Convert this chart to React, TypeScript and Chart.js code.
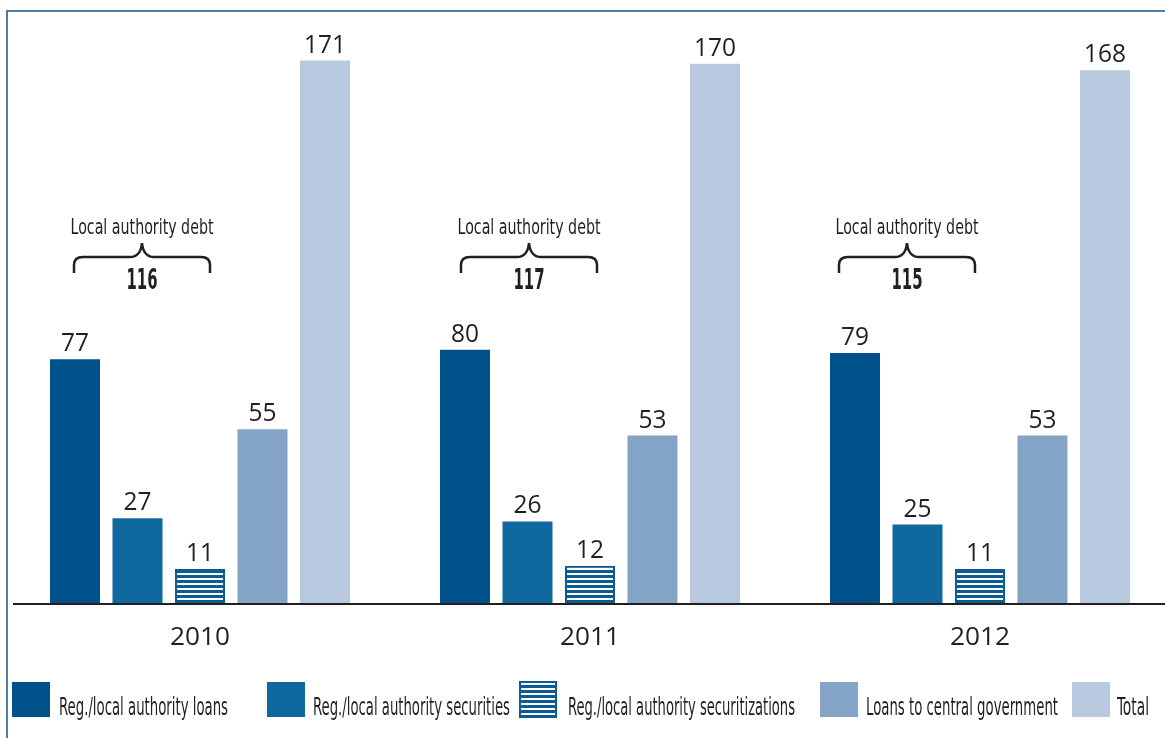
import React, { useEffect, useRef } from 'react';
import { Chart, registerables } from 'chart.js';

Chart.register(...registerables);

// ---- Data ----
const years = [2010, 2011, 2012];
const seriesNames = [
  'Reg./local authority loans',
  'Reg./local authority securities',
  'Reg./local authority securitizations',
  'Loans to central government',
  'Total',
];
const loans = [77, 80, 79];
const securities = [27, 26, 25];
const securitizations = [11, 12, 11];
const centralGov = [55, 53, 53];
const totals = [171, 170, 168];
const localDebt = [116, 117, 115];
const braceLabel = 'Local authority debt';

const seriesValues = [loans, securities, securitizations, centralGov, totals];

// ---- Styles ----
const COLORS = ['#00508a', '#10699e', '#0d5b93', '#84a4c7', '#b8c9e0'];
const TEXT = '#231f20';
const FRAME = '#4d7ea3';
const NARROW = '"Liberation Sans Narrow", "DejaVu Sans Condensed", "Roboto", sans-serif';
const OPEN = '"Open Sans", "Noto Sans", sans-serif';

function makePattern(): CanvasPattern | string {
  const c = document.createElement('canvas');
  c.width = 4;
  c.height = 5;
  const g = c.getContext('2d');
  if (!g) return COLORS[2];
  g.fillStyle = COLORS[2];
  g.fillRect(0, 0, 4, 5);
  g.fillStyle = '#ffffff';
  g.fillRect(0, 3, 4, 2);
  return g.createPattern(c, 'repeat') || COLORS[2];
}

function fitText(ctx: CanvasRenderingContext2D, text: string, x: number, y: number, w: number, align: 'left' | 'center') {
  ctx.save();
  ctx.textAlign = 'left';
  const m = ctx.measureText(text).width || 1;
  const s = w / m;
  ctx.translate(align === 'center' ? x - w / 2 : x, y);
  ctx.scale(s, 1);
  ctx.fillText(text, 0, 0);
  ctx.restore();
}

export default function App() {
  const ref = useRef<HTMLCanvasElement | null>(null);

  useEffect(() => {
    if (!ref.current) return;
    const pattern = makePattern();

    const overlay = {
      id: 'overlay',
      afterDatasetsDraw(chart: any) {
        const ctx: CanvasRenderingContext2D = chart.ctx;
        const xs = chart.scales.x;
        const ys = chart.scales.y;
        const area = chart.chartArea;
        ctx.save();

        // baseline axis
        const y0 = ys.getPixelForValue(0);
        ctx.strokeStyle = TEXT;
        ctx.lineWidth = 2;
        ctx.beginPath();
        ctx.moveTo(area.left, y0);
        ctx.lineTo(area.right, y0);
        ctx.stroke();

        // value labels
        ctx.fillStyle = TEXT;
        ctx.font = `25px ${OPEN}`;
        ctx.textAlign = 'center';
        ctx.textBaseline = 'alphabetic';
        chart.data.datasets.forEach((ds: any, di: number) => {
          const meta = chart.getDatasetMeta(di);
          meta.data.forEach((bar: any, i: number) => {
            fitText(ctx, String(ds.data[i].y), bar.x, bar.y - 8, String(ds.data[i].y).length * 14, 'center');
          });
        });

        // year labels
        ctx.font = `26px ${OPEN}`;
        years.forEach((yr) => {
          fitText(ctx, String(yr), xs.getPixelForValue(yr), y0 + 41, 60, 'center');
        });

        // braces
        const braceOffsets = [-58, -61, -73];
        years.forEach((yr, i) => {
          const cx = xs.getPixelForValue(yr) + braceOffsets[i];
          const L = cx - 68;
          const R = cx + 68;
          const hy = 257;
          const endY = 273;
          const tipY = 243;
          ctx.fillStyle = TEXT;
          ctx.font = `22px ${NARROW}`;
          fitText(ctx, braceLabel, cx, 234, 143, 'center');
          ctx.strokeStyle = TEXT;
          ctx.lineWidth = 2.5;
          ctx.beginPath();
          ctx.moveTo(L, endY);
          ctx.lineTo(L, hy + 8);
          ctx.quadraticCurveTo(L, hy, L + 9, hy);
          ctx.lineTo(cx - 12, hy);
          ctx.bezierCurveTo(cx - 5, hy, cx - 1, hy - 4, cx, tipY);
          ctx.bezierCurveTo(cx + 1, hy - 4, cx + 5, hy, cx + 12, hy);
          ctx.lineTo(R - 9, hy);
          ctx.quadraticCurveTo(R, hy, R, hy + 8);
          ctx.lineTo(R, endY);
          ctx.stroke();
          ctx.font = `bold 28px ${NARROW}`;
          fitText(ctx, String(localDebt[i]), cx, 289, 31, 'center');
        });

        // legend
        const sqX = [12, 267, 519, 820, 1072];
        const txX = [59, 313, 568, 866, 1117];
        const txW = [169, 197, 227, 192, 32];
        ctx.font = `25px ${NARROW}`;
        seriesNames.forEach((name, k) => {
          if (k === 2) {
            ctx.fillStyle = pattern as any;
            ctx.fillRect(sqX[k], 681, 38, 37);
            ctx.strokeStyle = COLORS[2];
            ctx.lineWidth = 2;
            ctx.strokeRect(sqX[k] + 1, 682, 36, 35);
          } else {
            ctx.fillStyle = COLORS[k];
            ctx.fillRect(sqX[k], 682, 38, 35);
          }
          ctx.fillStyle = TEXT;
          fitText(ctx, name, txX[k], 715, txW[k], 'left');
        });

        // frame
        ctx.strokeStyle = FRAME;
        ctx.lineWidth = 2;
        ctx.beginPath();
        ctx.moveTo(7, chart.height);
        ctx.lineTo(7, 11);
        ctx.lineTo(chart.width, 11);
        ctx.stroke();

        ctx.restore();
      },
    };

    const chart = new Chart(ref.current, {
      type: 'bar',
      data: {
        datasets: seriesNames.map((name, k) => ({
          label: name,
          data: years.map((yr, i) => ({ x: yr, y: seriesValues[k][i] })),
          backgroundColor: k === 2 ? (pattern as any) : COLORS[k],
          borderColor: COLORS[2],
          borderWidth: k === 2 ? 2 : 0,
          categoryPercentage: 0.8013,
          barPercentage: 0.8,
        })),
      },
      options: {
        animation: false,
        responsive: false,
        layout: { padding: { left: 13, right: 0, top: 32, bottom: 134 } },
        plugins: { legend: { display: false }, tooltip: { enabled: false } },
        scales: {
          x: {
            type: 'linear',
            min: 2009.5205,
            max: 2012.4744,
            offset: false,
            display: false,
            afterBuildTicks: (s: any) => {
              s.ticks = years.map((v) => ({ value: v }));
            },
          },
          y: { min: 0, max: 180, display: false },
        },
      },
      plugins: [overlay],
    } as any);

    return () => chart.destroy();
  }, []);

  return (
    <canvas
      ref={ref}
      width={1165}
      height={738}
      style={{ position: 'fixed', left: 0, top: 0, width: 1165, height: 738 }}
    />
  );
}
